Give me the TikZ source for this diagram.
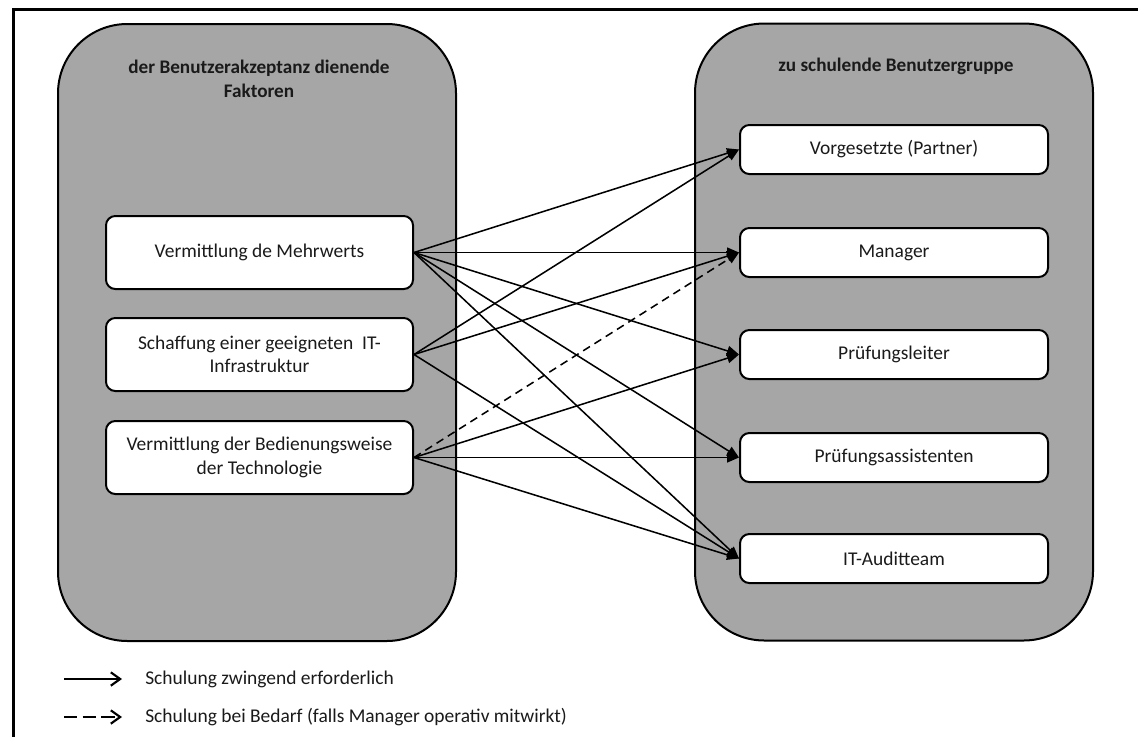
\documentclass[tikz,border=0pt]{standalone}
\usepackage{fontspec}
\setmainfont{Carlito}
\usetikzlibrary{arrows.meta}
\definecolor{panelgray}{HTML}{A6A6A6}
\definecolor{inkgray}{HTML}{1A1A1A}
\begin{document}
\begin{tikzpicture}[x=0.75pt,y=-0.75pt,
  panel/.style={draw=black, line width=1.5pt, fill=panelgray, rounded corners=52pt,
    minimum width=298.5pt, minimum height=462.75pt, inner sep=0pt},
  factor/.style={draw=black, line width=1.5pt, fill=white, rounded corners=7pt,
    minimum width=230.25pt, minimum height=54.75pt, inner sep=0pt, align=center,
    text=inkgray, font=\fontsize{14.6}{17.5}\selectfont},
  group/.style={factor, minimum width=231pt, minimum height=36.75pt},
  heading/.style={align=center, text=inkgray, font=\fontsize{14.4}{18}\selectfont\bfseries},
  link/.style={line width=1.15pt, -{Triangle[length=9pt,width=7.5pt]}},
  optional/.style={link, dash pattern=on 6pt off 4pt},
  keyline/.style={line width=1.15pt, -{Straight Barb[length=7pt,width=10pt,line width=1.6pt]}},
  keytext/.style={anchor=west, inner sep=0pt, text=inkgray, font=\fontsize{14.6}{17.5}\selectfont}
]
\useasboundingbox (0,0) rectangle (1138,736);

% outer frame (top and left edges)
\draw[line width=2.25pt] (1145,9.5) -- (13.5,9.5) -- (13.5,745);

% panels
\node[panel] (lp) at (257,332.5) {};
\node[panel] (rp) at (894,332) {};
\node[heading] (lt) at (259,79) {der Benutzerakzeptanz dienende\\Faktoren};
\node[heading] (rt) at (896,66) {zu schulende Benutzergruppe};

% factors
\node[factor] (f1) at (259.5,252.5) {Vermittlung de Mehrwerts};
\node[factor] (f2) at (259.5,354.5) {Schaffung einer geeigneten~ IT-\\Infrastruktur};
\node[factor] (f3) at (259.5,457.5) {Vermittlung der Bedienungsweise\\der Technologie};

% user groups
\node[group] (g1) at (894,149.5) {Vorgesetzte (Partner)};
\node[group] (g2) at (894,252.5) {Manager};
\node[group] (g3) at (894,354.5) {Prüfungsleiter};
\node[group] (g4) at (894,457.5) {Prüfungsassistenten};
\node[group] (g5) at (894,558.5) {IT-Auditteam};

% training links
\draw[link] (f1.east) -- (g1.west);
\draw[link] (f1.east) -- (g2.west);
\draw[link] (f1.east) -- (g3.west);
\draw[link] (f1.east) -- (g4.west);
\draw[link] (f1.east) -- (g5.west);
\draw[link] (f2.east) -- (g1.west);
\draw[link] (f2.east) -- (g2.west);
\draw[link] (f2.east) -- (g5.west);
\draw[optional] (f3.east) -- (g2.west);
\draw[link] (f3.east) -- (g3.west);
\draw[link] (f3.east) -- (g4.west);
\draw[link] (f3.east) -- (g5.west);

% legend
\coordinate (k1a) at (64,679);
\coordinate (k1b) at (122,679);
\coordinate (k2a) at (64,717);
\coordinate (k2b) at (122,717);
\draw[keyline] (k1a) -- (k1b);
\draw[keyline, dash pattern=on 10pt off 4pt] (k2a) -- (k2b);
\node[keytext] (kt1) at (145,679) {Schulung zwingend erforderlich};
\node[keytext] (kt2) at (145,717) {Schulung bei Bedarf (falls Manager operativ mitwirkt)};
\end{tikzpicture}
\end{document}
